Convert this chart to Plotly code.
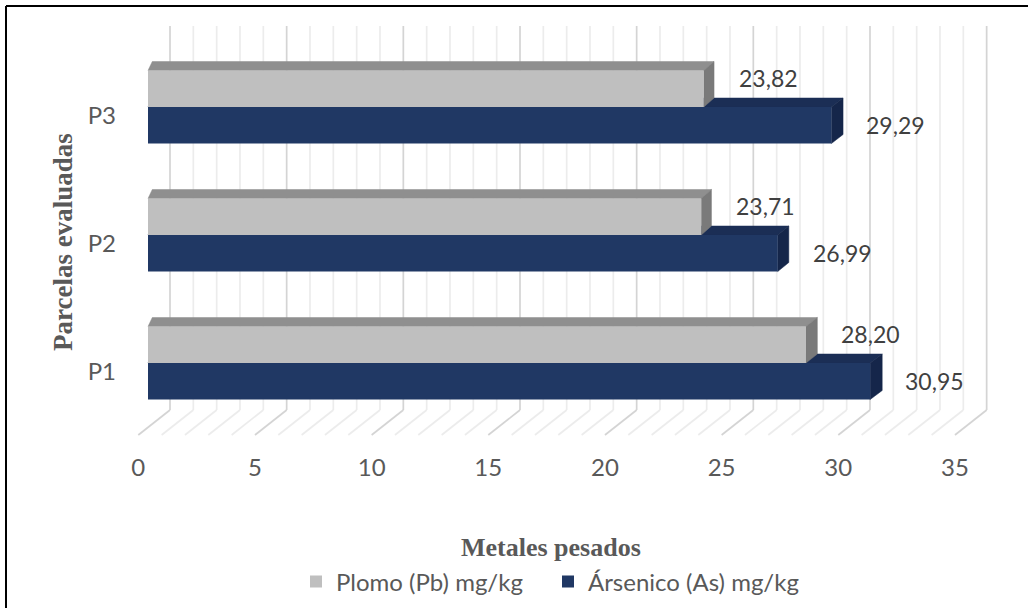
import plotly.graph_objects as go

# ---- data ----
categories = ["P1", "P2", "P3"]
plomo = [28.20, 23.71, 23.82]        # Plomo (Pb) mg/kg
arsenico = [30.95, 26.99, 29.29]     # Ársenico (As) mg/kg
x_ticks = [0, 5, 10, 15, 20, 25, 30, 35]
x_max = 35

# ---- canvas geometry (pixels) ----
W, H = 1028, 608
ML, MR, MT, MB = 125, 28, 26, 168
PX_X = 23.333            # pixels per unit on the value axis
ZERO_PX = 148            # pixel of value 0 on the bar front plane
PX_Y = 128               # pixels per category step
BASE_PX = 363            # pixel row of the first category baseline

x_range = [(ML - ZERO_PX) / PX_X, (W - MR - ZERO_PX) / PX_X]
y_range = [(BASE_PX - (H - MB)) / PX_Y, (BASE_PX - MT) / PX_Y]

BAR_W = 36.5 / PX_Y      # bar thickness in category units
DY = 9 / PX_Y            # depth rise of the 3-D faces
BACK_OFF = 22 / PX_X     # back wall offset along x
FRONT_OFF = -9.7 / PX_X  # floor front edge offset along x
FLOOR_BACK = (BASE_PX - 410) / PX_Y
FLOOR_FRONT = (BASE_PX - 435) / PX_Y


def depth_dx(v):
    """Horizontal depth shift (value units) at value v, with slight perspective."""
    return (4.3 + 0.25 * v) / PX_X


def paper_x(px):
    return (px - ML) / (W - ML - MR)


def paper_y(py):
    return (H - MB - py) / (H - MT - MB)


GRAY = "#BFBFBF"
GRAY_TOP = "#8F8F8F"
GRAY_SIDE = "#7A7A7A"
NAVY = "#203864"
NAVY_TOP = "#1B2E55"
NAVY_SIDE = "#15264A"
TEXT = "#595959"
FONT = "Lato, Open Sans, sans-serif"
SERIF = "Liberation Serif, Times New Roman, serif"

shapes = []

# back wall grid and floor grid
for v in range(0, x_max + 1):
    major = v % 5 == 0
    col = "#D4D4D4" if major else "#ECECEC"
    bx = v + BACK_OFF
    shapes.append(dict(type="line", xref="x", yref="y", layer="below",
                       x0=bx, x1=bx, y0=FLOOR_BACK, y1=y_range[1],
                       line=dict(color=col, width=1.7)))
    shapes.append(dict(type="line", xref="x", yref="y", layer="below",
                       x0=bx, y0=FLOOR_BACK, x1=v + FRONT_OFF, y1=FLOOR_FRONT,
                       line=dict(color=col, width=1.7)))


def bar_faces(v, top, bot, c_top, c_side):
    dxv = depth_dx(v)
    dx0 = depth_dx(0)
    top_face = (f"M 0,{top} L {v},{top} L {v + dxv},{top + DY} "
                f"L {dx0},{top + DY} Z")
    side_face = (f"M {v},{bot} L {v},{top} L {v + dxv},{top + DY} "
                 f"L {v + dxv},{bot + DY} Z")
    return [
        dict(type="path", xref="x", yref="y", layer="below", path=top_face,
             fillcolor=c_top, line=dict(color=c_top, width=0.5)),
        dict(type="path", xref="x", yref="y", layer="below", path=side_face,
             fillcolor=c_side, line=dict(color=c_side, width=0.5)),
    ]


ypos = list(range(len(categories)))
for i in ypos:
    # lower bar (arsenic) first, its top face sits behind the upper bar
    shapes += bar_faces(arsenico[i], i, i - BAR_W, NAVY_TOP, NAVY_SIDE)
    shapes += bar_faces(plomo[i], i + BAR_W, i, GRAY_TOP, GRAY_SIDE)

# frame lines
shapes.append(dict(type="line", xref="paper", yref="paper",
                   x0=paper_x(6), x1=paper_x(1040), y0=paper_y(6), y1=paper_y(6),
                   line=dict(color="black", width=2)))
shapes.append(dict(type="line", xref="paper", yref="paper",
                   x0=paper_x(6), x1=paper_x(6), y0=paper_y(6), y1=paper_y(620),
                   line=dict(color="black", width=2)))

fig = go.Figure()
fig.add_trace(go.Bar(
    name="Plomo (Pb) mg/kg", orientation="h", y=ypos, x=plomo,
    width=BAR_W, offset=0, marker=dict(color=GRAY, line=dict(width=0)),
))
fig.add_trace(go.Bar(
    name="Ársenico (As) mg/kg", orientation="h", y=ypos, x=arsenico,
    width=BAR_W, offset=-BAR_W, marker=dict(color=NAVY, line=dict(width=0)),
))


def fmt(v):
    return f"{v:.2f}".replace(".", ",")


LABEL_FONT = dict(family=FONT, size=23, color="#404040")
annotations = []
for i in ypos:
    annotations.append(dict(x=plomo[i], y=i + BAR_W / 2, xref="x", yref="y",
                            text=fmt(plomo[i]), showarrow=False,
                            xanchor="left", yanchor="middle",
                            xshift=33, yshift=11, font=LABEL_FONT))
    annotations.append(dict(x=arsenico[i], y=i - BAR_W / 2, xref="x", yref="y",
                            text=fmt(arsenico[i]), showarrow=False,
                            xanchor="left", yanchor="middle",
                            xshift=33, yshift=0, font=LABEL_FONT))

annotations.append(dict(x=paper_x(551), y=paper_y(547), xref="paper", yref="paper",
                        text="Metales pesados", showarrow=False,
                        xanchor="center", yanchor="middle",
                        font=dict(family=SERIF, size=26, color=TEXT, weight="bold")))
annotations.append(dict(x=paper_x(63), y=paper_y(242), xref="paper", yref="paper",
                        text="Parcelas evaluadas", showarrow=False, textangle=-90,
                        xanchor="center", yanchor="middle",
                        font=dict(family=SERIF, size=27, color=TEXT, weight="bold")))

fig.update_layout(
    width=W, height=H,
    margin=dict(l=ML, r=MR, t=MT, b=MB, autoexpand=False),
    paper_bgcolor="white", plot_bgcolor="white",
    barmode="overlay",
    shapes=shapes,
    annotations=annotations,
    showlegend=True,
    legend=dict(orientation="h", x=paper_x(296), xanchor="left",
                y=paper_y(582), yanchor="middle",
                font=dict(family=FONT, size=24, color=TEXT),
                bgcolor="rgba(0,0,0,0)", itemwidth=30, entrywidth=207),
    xaxis=dict(range=x_range, showgrid=False, zeroline=False, showline=False,
               tickmode="array", tickvals=[t + FRONT_OFF for t in x_ticks],
               ticktext=[str(t) for t in x_ticks], ticks="",
               ticklabelstandoff=11,
               tickfont=dict(family=FONT, size=24, color=TEXT), fixedrange=True),
    yaxis=dict(range=y_range, showgrid=False, zeroline=False, showline=False,
               tickmode="array", tickvals=[i - 0.07 for i in ypos],
               ticktext=categories, ticks="", ticklabelstandoff=8,
               tickfont=dict(family=FONT, size=24, color=TEXT), fixedrange=True),
)

fig.write_html("out.html")
